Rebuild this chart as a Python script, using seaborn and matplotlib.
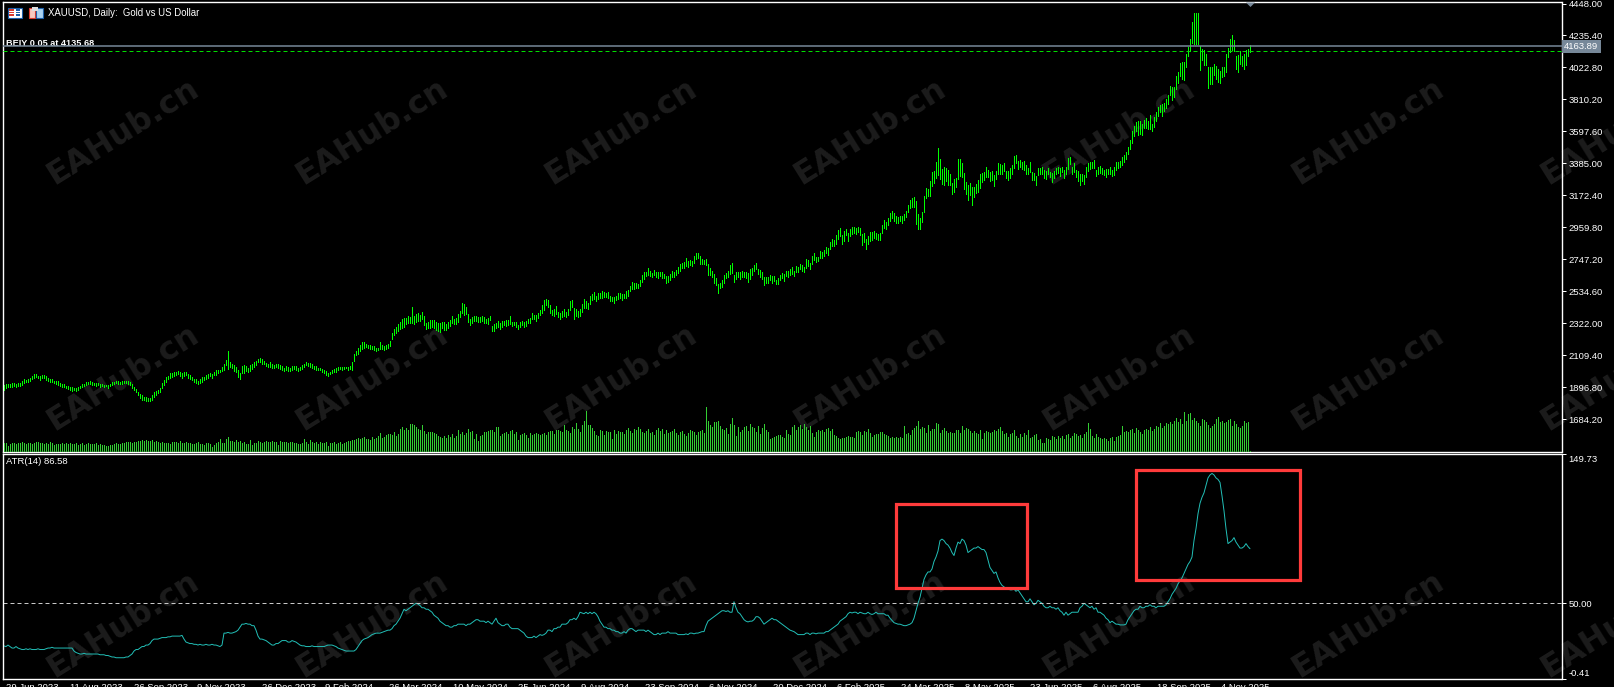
import numpy as np
import pandas as pd
import matplotlib
matplotlib.use("Agg")
import matplotlib.pyplot as plt
from matplotlib.patches import Rectangle, Polygon
from matplotlib.transforms import offset_copy
import seaborn as sns

price_mid = [
1897,1905,1910,1912,1914,1915,1912,1916,1918,1925,1938,1938,1945,1950,1962,1972,1975,1968,1962,1968,
1972,1960,1950,1945,1942,1935,1932,1925,1918,1912,1908,1902,1898,1892,1888,1885,1884,1892,1902,1908,
1915,1922,1928,1928,1925,1920,1915,1918,1912,1915,1908,1910,1905,1915,1922,1928,1932,1930,1928,1932,
1935,1932,1928,1924,1905,1890,1875,1858,1840,1830,1822,1820,1818,1816,1830,1850,1860,1870,1880,1910,
1930,1950,1965,1975,1980,1985,1990,1995,1988,1975,1985,1992,1975,1965,1955,1945,1938,1930,1940,1952,
1955,1965,1975,1985,1975,1990,1995,2000,2005,2018,2035,2060,2080,2050,2040,2025,2015,1990,1975,2015,
2020,2025,2015,2025,2035,2050,2060,2075,2078,2068,2060,2050,2045,2050,2040,2035,2045,2040,2035,2028,
2015,2025,2020,2018,2025,2030,2028,2018,2020,2035,2045,2055,2050,2045,2040,2030,2025,2020,2020,2010,
2005,1995,1985,1995,2005,2010,2015,2020,2025,2022,2028,2030,2025,2030,2040,2095,2125,2140,2160,2176,
2180,2176,2170,2165,2165,2158,2150,2152,2175,2165,2160,2165,2172,2190,2240,2265,2280,2295,2310,2322,
2330,2340,2350,2345,2378,2345,2360,2365,2360,2375,2345,2305,2310,2318,2322,2318,2305,2298,2295,2310,
2305,2298,2310,2325,2350,2335,2340,2360,2385,2425,2415,2410,2360,2335,2345,2355,2355,2350,2348,2355,
2345,2340,2338,2360,2290,2295,2310,2318,2305,2320,2325,2325,2330,2345,2320,2322,2315,2300,2315,2325,
2315,2322,2338,2340,2372,2365,2360,2375,2395,2420,2445,2462,2455,2420,2395,2395,2412,2380,2372,2385,
2395,2380,2400,2440,2455,2388,2395,2385,2395,2425,2455,2450,2440,2480,2500,2510,2490,2505,2508,2515,
2515,2510,2512,2490,2485,2480,2490,2505,2508,2495,2505,2515,2525,2555,2574,2570,2575,2570,2590,2620,
2640,2650,2668,2652,2645,2660,2650,2645,2650,2645,2640,2615,2618,2630,2650,2648,2660,2680,2695,2705,
2710,2730,2715,2725,2720,2745,2772,2775,2745,2735,2730,2730,2680,2670,2650,2620,2600,2555,2575,2590,
2620,2640,2650,2680,2690,2620,2640,2650,2640,2650,2650,2645,2630,2650,2665,2690,2705,2665,2655,2640,
2605,2610,2610,2625,2615,2620,2600,2605,2625,2640,2630,2655,2650,2665,2675,2655,2685,2680,2700,2690,
2680,2720,2725,2705,2745,2765,2750,2750,2780,2775,2790,2810,2800,2840,2860,2855,2880,2915,2930,2880,
2905,2930,2895,2925,2940,2945,2938,2945,2935,2880,2895,2850,2875,2900,2905,2915,2905,2895,2900,2950,
2985,2975,3000,3030,3045,3030,3010,3010,3020,3015,3030,3050,3085,3115,3125,3130,3060,3000,2985,3030,
3115,3190,3190,3220,3280,3295,3340,3400,3350,3300,3300,3310,3295,3280,3220,3240,3260,3350,3360,3340,
3270,3220,3190,3215,3170,3195,3220,3235,3270,3290,3300,3330,3320,3300,3305,3270,3310,3350,3350,3345,
3360,3310,3305,3320,3345,3395,3415,3375,3385,3370,3370,3345,3335,3360,3300,3300,3270,3330,3335,3340,
3315,3310,3335,3310,3290,3310,3335,3340,3330,3345,3315,3340,3385,3405,3340,3360,3320,3300,3280,3290,
3280,3330,3360,3370,3375,3380,3320,3340,3345,3335,3325,3320,3330,3340,3325,3335,3370,3375,3380,3400,
3420,3440,3470,3510,3560,3600,3630,3620,3625,3610,3650,3655,3640,3660,3625,3660,3700,3730,3750,3740,
3760,3785,3810,3870,3850,3860,3923,3956,4010,4003,3997,4069,4130,4175,4255,4282,4282,4282,4085,4110,
4089,4076,3956,3969,3969,4010,3990,3969,3962,3990,3997,4053,4122,4169,4189,4169,4056,4050,4089,4069,
4063,4089,4122,4149]

price_range = [
30,24,22,20,25,18,22,16,19,24,28,15,20,18,22,30,18,16,25,22,
20,24,16,18,22,15,19,24,17,20,22,16,18,20,24,16,17,19,14,22,
16,20,14,22,18,15,17,13,19,16,14,12,18,15,17,13,12,15,14,18,
12,14,18,20,28,22,20,18,24,30,22,26,21,19,36,28,24,20,30,38,
32,35,22,30,24,28,26,22,30,36,28,20,24,30,18,22,25,20,26,32,
20,28,24,18,26,22,30,20,16,28,42,34,120,30,26,40,34,48,40,44,
50,32,28,40,34,30,24,22,26,30,20,24,22,28,26,20,22,30,24,28,
20,24,26,18,30,22,26,18,20,24,22,20,18,26,22,20,24,18,16,22,
18,26,20,16,22,18,24,20,14,20,16,12,18,22,50,45,30,35,40,48,
38,22,24,30,20,26,24,18,50,28,30,26,28,36,42,45,40,50,44,60,
62,40,48,46,105,48,50,55,40,48,60,40,38,52,46,58,50,54,62,42,
50,45,42,40,48,38,42,50,46,60,68,48,52,40,45,30,36,32,28,36,
40,30,36,28,32,46,36,38,40,36,32,34,30,48,28,26,34,30,36,32,
28,34,30,36,40,28,42,36,38,50,60,40,44,50,36,48,52,32,40,44,
50,34,40,58,50,68,46,40,52,50,62,46,42,55,40,48,36,34,38,44,
36,30,42,34,26,40,30,36,28,40,30,46,34,38,44,36,32,28,40,42,
44,30,48,34,28,36,32,40,30,36,28,50,34,38,42,28,36,40,44,32,
36,50,40,34,30,46,40,32,50,36,30,38,72,48,40,60,42,58,36,46,
54,38,44,60,68,50,46,34,42,36,32,44,60,68,46,40,36,32,44,50,
56,40,36,32,44,30,28,42,34,38,46,36,40,42,50,36,44,30,38,42,
34,56,44,36,50,48,34,30,44,38,36,40,46,52,50,42,58,60,50,62,
64,46,56,48,42,40,38,30,44,70,60,64,52,56,50,46,40,42,50,58,
52,44,48,58,50,56,46,40,32,44,36,42,50,56,60,66,150,95,75,72,
105,70,48,100,95,75,105,180,130,96,120,84,100,72,70,90,60,130,110,90,
105,80,100,75,120,70,60,78,90,60,55,70,48,60,55,72,50,70,68,62,
52,48,55,64,60,80,50,55,42,46,58,60,40,68,54,50,62,46,42,48,
58,50,46,36,60,44,42,38,52,36,50,46,70,50,48,60,50,66,72,46,
62,70,50,48,42,56,38,46,50,44,36,52,34,50,40,48,56,42,38,50,
48,44,50,62,80,66,58,96,90,72,54,70,58,90,46,70,60,58,52,80,
50,60,55,60,85,60,90,70,90,110,120,90,60,80,144,200,200,200,155,70,
105,75,137,110,115,78,82,88,78,66,60,120,55,88,106,70,88,110,88,66,
100,100,44,44]

volume = [
9,9,6,8,9,9,8,9,9,10,9,8,9,9,8,9,10,10,9,9,
8,9,8,10,9,7,8,8,8,9,8,9,8,9,8,8,9,7,8,9,
7,8,9,8,8,8,9,7,8,7,7,6,6,7,7,8,9,8,8,9,
9,10,10,10,9,10,10,11,11,12,11,12,11,11,12,10,11,10,9,10,
9,9,9,8,10,10,10,9,11,9,9,10,9,9,8,8,9,10,8,8,
7,9,9,8,5,7,9,10,13,9,9,13,15,11,11,10,12,10,11,9,
10,8,8,12,7,9,9,11,10,9,10,11,10,10,11,10,10,7,11,10,
10,10,9,10,10,9,9,8,8,9,13,10,8,12,10,9,10,8,10,9,
9,10,6,9,9,10,8,9,10,8,9,10,11,11,12,12,13,14,13,14,
15,13,13,12,15,13,14,16,19,14,15,17,18,18,17,20,16,18,23,25,
22,24,22,28,28,27,25,23,22,27,21,18,20,20,20,19,18,16,15,14,
16,14,17,15,18,14,16,22,18,20,17,19,23,20,21,13,18,11,16,17,
20,20,21,22,22,20,25,25,16,18,19,20,18,21,22,18,20,12,17,18,
19,17,14,19,17,18,19,18,17,18,19,17,20,21,21,18,22,22,21,20,
27,22,21,19,25,23,29,23,20,27,31,41,27,27,24,21,17,16,22,21,
17,21,20,20,13,22,18,21,20,20,18,22,24,21,19,23,22,25,23,20,
19,21,23,19,20,17,22,24,21,23,18,22,19,20,21,23,19,17,20,21,
18,16,19,22,21,20,17,20,21,22,19,45,31,27,25,30,30,31,26,23,
22,24,18,28,34,27,16,25,20,22,25,26,21,28,25,24,20,26,18,24,
28,22,20,13,14,15,16,17,17,15,14,22,18,17,25,27,22,25,27,23,
28,25,22,26,19,15,20,22,21,22,20,23,24,21,23,17,16,14,13,14,
14,15,16,15,15,14,20,21,20,17,21,20,23,19,15,17,18,18,20,20,
18,17,16,14,15,14,15,14,15,14,26,18,19,17,22,24,26,31,23,25,
24,19,27,21,23,23,29,28,19,22,24,21,19,20,19,19,22,22,19,26,
22,24,23,21,19,21,19,18,22,13,19,21,20,19,20,22,21,23,25,21,
18,19,15,18,19,22,16,14,18,15,19,17,22,14,15,17,18,12,13,9,
9,14,13,12,16,15,13,16,14,16,13,17,18,14,16,19,18,16,17,14,
18,20,29,23,16,14,18,15,14,13,14,13,11,14,15,11,15,16,17,26,
20,21,20,22,23,19,24,22,20,18,22,23,22,25,21,23,26,25,29,24,
26,29,28,30,28,31,34,30,33,28,40,31,38,39,32,34,31,29,26,33,
32,30,27,24,26,28,33,35,30,31,29,30,32,33,26,31,28,25,24,26,
31,29,30,1]

atr = [
21.4,21,22,21,20,20,21,20,19.5,19,19,19.5,19,19.5,19,19,19,19.5,19,19,
19,19.5,20,20,20.5,20,20,20,20,20,20,20,20,20,20,18,17,16.5,16,16,
16.5,16,16,16,16,16,16,16,15.5,15.5,15.5,15,15,14.5,14,14,13.5,13.5,13.5,13.5,
13.5,14,14,15,16,18,19,19,20,21,21,22,22,23,25,26,26,26,26.5,27,
27,27,27.5,27.5,28,28,28,28,28,28.5,26,24,23.5,23,23,22.5,22.5,22,22.5,22,
22,22.5,22,22,22.5,22,22,21.5,21,22,30,30,30.5,30,30,30.5,31,32,34,36,
36,36.5,36,36,35,35,32,28,26,26,25.5,25,24,23,22,22,23,23,24,25,
25,25,24,24,25,24.5,24,23,22,21.5,21.5,21,21,21,21.5,21,21,21,21,21,
21,21.5,22,22,22,21.5,21,20,19.5,19,18.5,18,18,18,18,18,19,21,23,25,
26,26.5,27,28,29,29.5,30,30,30,30.5,31,31.5,32,32,33,35,36,38,40,43,
46,45,46,47,48,49,50,49.5,48.5,47,47,46,46,45,44,42,41,40,38,37,
36,35,35,34,34,35,35,36,36,36,36,35,36,36,37,38,39,39,38,38,
38,37,38,37,36,38,40,37,36,35,35,36,36,34,33,33,33,33,32,31,
30,28,27,27,27,28,27,28,29,28.5,29,30,32,32,31,33,33,34,34,36,
36,36,37,39,39,40,39,41,44,43.5,43,44,43,44,43,44,43,41,38,36,
34,34,33,33,32,32,31,31,30,30,31,30,32,33,33,32,31,32,32,32,
32,31,32,31,30,29,29,30,29,30,30,30,31,30,30,30,30,29,29,29,
29,29.5,29,30,30,29.5,30,30,30.5,31,31,35,38,39,40,41,42,43,44,45,
45,44.5,45,44,44,51,47,44,43,41,39,38,37.5,38,38,39,41,41,40,38,
36,37,38,39,40,39,39,38,37,36,35,34,33,32,31.5,31,30,29,29,29,
29,30,30,29,30,30,29.5,30,30,30,30,31,31,32,33,34,35,36,38,39,
40,41,43,44,43.5,44,44,43,44,43.5,43,43,44,43,42.5,43,44,43,43,43,
43,42,42,40,38.5,37,36.5,36,36,35.5,35,35,35.5,36,37,40,45,50,54,60,
66,69,71,71,73,78,81,85,92,93,92,90,89,87,84,82,87,91,90,93,
92,89,84,85,86,87,87,88,87,86,86,84,79,74,72,70,71,67,64,62,
61,60,60.5,59,59,59.5,58,59,57,55,53,51,51,53,51,49,50,52,51,50,
48,47,47,48,47,47,46,47,45,44,42,44,42,43,44,44,44,44,47,48,
50,49,48,47,48,46,47,44,44,43,42,40,39,37,38,37,36,36,35.5,35.5,
35.5,36,39,41,43,45,46,46,48,47,47,48,48,49,48,48,47,48,48,48,
48,49,51,53,56,58,60,63,65,67,70,73,76,78,81,92,100,110,117,121,
124,129,134,136,137,136,134,133,131,122,112,100,90,91,92,94,91,89,87,87,
88,90,88,86.58]

price_ticks = [4448.00,4235.40,4022.80,3810.20,3597.60,3385.00,3172.40,2959.80,2747.20,2534.60,2322.00,2109.40,1896.80,1684.20]
atr_ticks = [149.73,50.00,-0.41]
date_labels = ["29 Jun 2023","11 Aug 2023","26 Sep 2023","9 Nov 2023","26 Dec 2023","9 Feb 2024","26 Mar 2024",
               "10 May 2024","25 Jun 2024","9 Aug 2024","23 Sep 2024","6 Nov 2024","20 Dec 2024","6 Feb 2025",
               "24 Mar 2025","8 May 2025","23 Jun 2025","6 Aug 2025","18 Sep 2025","4 Nov 2025"]
bid_price = 4163.89
order_price = 4135.68
atr_level = 50.0

W, H = 1614, 687
FONT = ["Liberation Sans", "DejaVu Sans"]
sns.set_theme(style="dark")
plt.rcParams["font.family"] = FONT
plt.rcParams["font.size"] = 6.6

fig = plt.figure(figsize=(W / 100, H / 100), dpi=100, facecolor="black")

def axes_px(x0, y0, x1, y1):
    return fig.add_axes([x0 / W, 1 - y1 / H, (x1 - x0) / W, (y1 - y0) / H], facecolor="none")

ax = axes_px(2.5, 2, 1561.5, 451.5)
ax2 = axes_px(2.5, 454, 1561.5, 678.5)
vol_ax = ax.twinx()

xlim = ((2.5 - 4) / 2, (1561.5 - 4) / 2)
idx = np.arange(len(price_mid))
mid = np.array(price_mid, float)
rng = np.array(price_range, float)
n = min(len(mid), len(rng))
lc = ax.vlines(idx[:n], mid[:n] - rng[:n] / 2, mid[:n] + rng[:n] / 2, color="#00ff00", linewidth=0.6)
lc.set_antialiased(False)
lc.set_snap(True)
ax.set_xlim(*xlim)
ax.set_ylim(1684.2 - (451.5 - 419.5) * 6.644, 4448 + 1.5 * 6.644)

vi = np.arange(len(volume))
vc = vol_ax.vlines(vi, 0, volume, color="#32cd32", linewidth=0.6)
vc.set_antialiased(False)
vc.set_snap(True)
vol_ax.set_ylim(0, 449.5)
vol_ax.set_xlim(*xlim)
vol_ax.axis("off")

ax.text(3 / 1559, 1 - 42 / 449.5, "BEIY 0.05 at 4135.68", transform=ax.transAxes, color="white",
        fontsize=6.6, fontweight="bold", va="center", ha="left", zorder=2)
ax.axhline(bid_price, color="#778899", lw=1.1, zorder=3)
ax.axhline(order_price, color="#00dd00", lw=0.72, dashes=(4, 3), zorder=3)

ax.yaxis.tick_right()
ax.set_yticks(price_ticks)
ax.set_yticklabels([f"{v:.2f}" for v in price_ticks])
ax.set_xticks([])
ax.tick_params(axis="y", colors="white", length=3, width=0.72, pad=2, labelsize=6.8)
ax.text(1.0018, bid_price, f"{bid_price:.2f}", transform=ax.get_yaxis_transform(), color="white", fontsize=6.8,
        va="center", ha="left", bbox=dict(facecolor="#778899", edgecolor="none", pad=1.4), zorder=5, clip_on=False)

df = pd.DataFrame({"bar": np.arange(len(atr)), "atr": atr})
sns.lineplot(data=df, x="bar", y="atr", ax=ax2, color="#22c0b8", linewidth=0.7, errorbar=None)
ax2.axhline(atr_level, color="#c8c8c8", lw=0.72, dashes=(4, 3))
ax2.set_xlim(*xlim)
ax2.set_ylim(-0.41, 149.73 + 0.3)
ax2.yaxis.tick_right()
ax2.set_yticks(atr_ticks)
ax2.set_yticklabels([f"{v:.2f}" for v in atr_ticks])
ax2.tick_params(axis="y", colors="white", length=3, width=0.72, pad=2, labelsize=6.8)
ax2.set_xlabel("")
ax2.set_ylabel("")
for lab, dy in zip(ax2.get_yticklabels(), (-4, 0, 6)):
    lab.set_transform(offset_copy(lab.get_transform(), fig=fig, x=0, y=dy, units="dots"))
ticks = np.arange(len(date_labels)) * 32 - 0.75
ax2.set_xticks(ticks)
ax2.set_xticklabels(date_labels, ha="left")
ax2.tick_params(axis="x", colors="white", length=3, width=0.72, pad=0.5, labelsize=6.8)
for lab in ax2.get_xticklabels():
    lab.set_transform(offset_copy(lab.get_transform(), fig=fig, x=3, y=0, units="dots"))
ax2.text(4 / 1559, 1 - 8 / 224.5, "ATR(14) 86.58", transform=ax2.transAxes, color="white", fontsize=6.8, va="center")

for a in (ax, ax2):
    a.grid(False)
    for s in a.spines.values():
        s.set_color("white")
        s.set_linewidth(1.0)
        s.set_visible(True)

# watermark
for wy in (132, 378, 625):
    for k in range(7):
        fig.text((123 + 249 * k) / W, 1 - wy / H, "EAHub.cn", color="#1c1c1c", fontsize=23, fontweight="bold",
                 family="DejaVu Sans", rotation=32, ha="center", va="center", rotation_mode="anchor", zorder=-1)

def px_rect(x0, y0, x1, y1, **kw):
    fig.add_artist(Rectangle((x0 / W, 1 - y1 / H), (x1 - x0) / W, (y1 - y0) / H, transform=fig.transFigure, **kw))

# annotation boxes
px_rect(896, 504, 1027, 588, fill=False, edgecolor="#ff3b3b", linewidth=2.3, zorder=6)
px_rect(1136, 470, 1300, 580, fill=False, edgecolor="#ff3b3b", linewidth=2.3, zorder=6)

# header
fig.text(48.5 / W, 1 - 12.5 / H, "XAUUSD, Daily:  Gold vs US Dollar", color="white", fontsize=6.9, va="center", ha="left")
px_rect(7.5, 7.5, 21.5, 17.5, facecolor="white", edgecolor="#1c5fa8", linewidth=0.8, zorder=6)
for yy in (9.5, 12, 14.5):
    px_rect(9, yy, 14, yy + 1, facecolor="#d83a2e", edgecolor="none", zorder=7)
    px_rect(15.5, yy, 20, yy + 1, facecolor="#1c5fa8", edgecolor="none", zorder=7)
px_rect(28.5, 7.5, 35, 17.5, facecolor="#f6c9c0", edgecolor="#d83a2e", linewidth=0.8, zorder=6)
px_rect(36, 7.5, 42.5, 17.5, facecolor="#a9d2f0", edgecolor="#1c5fa8", linewidth=0.8, zorder=6)
px_rect(32, 7, 38, 10.5, facecolor="#dddddd", edgecolor="none", zorder=7)
fig.add_artist(Polygon([(1246 / W, 1 - 2.5 / H), (1255 / W, 1 - 2.5 / H), (1250.5 / W, 1 - 7 / H)], closed=True,
                       transform=fig.transFigure, facecolor="#778899", edgecolor="none", zorder=6))

fig.savefig("out.png", dpi=100, facecolor="black")
print(len(price_mid), len(price_range), len(volume), len(atr))
